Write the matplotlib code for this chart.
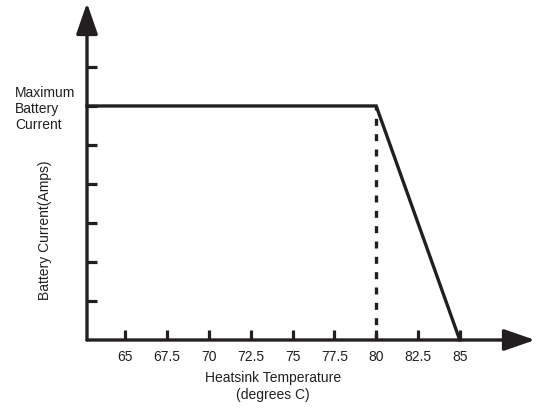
import matplotlib.pyplot as plt

plt.rcParams['font.family'] = ['Liberation Sans', 'DejaVu Sans']

# Data
temp = [62.7, 80, 85]
current = [6, 6, 0]
x_ticks = [65, 67.5, 70, 72.5, 75, 77.5, 80, 82.5, 85]
x_labels = ["65", "67.5", "70", "72.5", "75", "77.5", "80", "82.5", "85"]
y_ticks = [1, 2, 3, 4, 5, 6, 7]
knee_temp = 80
max_current = 6

ink = "#231f20"

fig = plt.figure(figsize=(5.38, 4.13), dpi=100)
ax = fig.add_axes([87 / 538, 73 / 413, 448 / 538, 337 / 413])
ax.set_xlim(62.7, 89.5)
ax.set_ylim(0, 8.64)

for s in ax.spines.values():
    s.set_visible(False)

# axes with arrow heads
arrow = dict(arrowstyle="-|>,head_length=0.95,head_width=0.33", mutation_scale=20,
             lw=2.4, color=ink, shrinkA=0, shrinkB=0)
ax.annotate("", xy=(1, 0), xytext=(0, 0), xycoords="axes fraction", arrowprops=arrow)
ax.annotate("", xy=(0, 1), xytext=(0, 0), xycoords="axes fraction", arrowprops=arrow)

# derating curve
ax.plot(temp, current, color=ink, lw=2.4, clip_on=False, solid_joinstyle="miter")
ax.plot([knee_temp, knee_temp], [0, max_current], color=ink, lw=2.4,
        linestyle=(0, (2.1, 2.5)), clip_on=False)

ax.set_xticks(x_ticks)
ax.set_xticklabels(x_labels)
ax.set_yticks(y_ticks)
ax.set_yticklabels([])
ax.tick_params(direction="in", length=7, width=2.3, color=ink, labelsize=10,
               labelcolor=ink, pad=7)

ax.set_xlabel("Heatsink Temperature\n(degrees C)", fontsize=10, color=ink, linespacing=1.25)
ax.xaxis.set_label_coords(0.415, -0.093)
ax.xaxis.label.set_va("top")
ax.set_ylabel("Battery Current(Amps)", fontsize=10, color=ink)
ax.yaxis.set_label_coords(-0.078, 0.326)

fig.text(15 / 538, 1 - 109 / 413, "Maximum\nBattery\nCurrent", fontsize=10, color=ink,
         ha="left", va="center", linespacing=1.2)

fig.savefig("out.png", dpi=100)
